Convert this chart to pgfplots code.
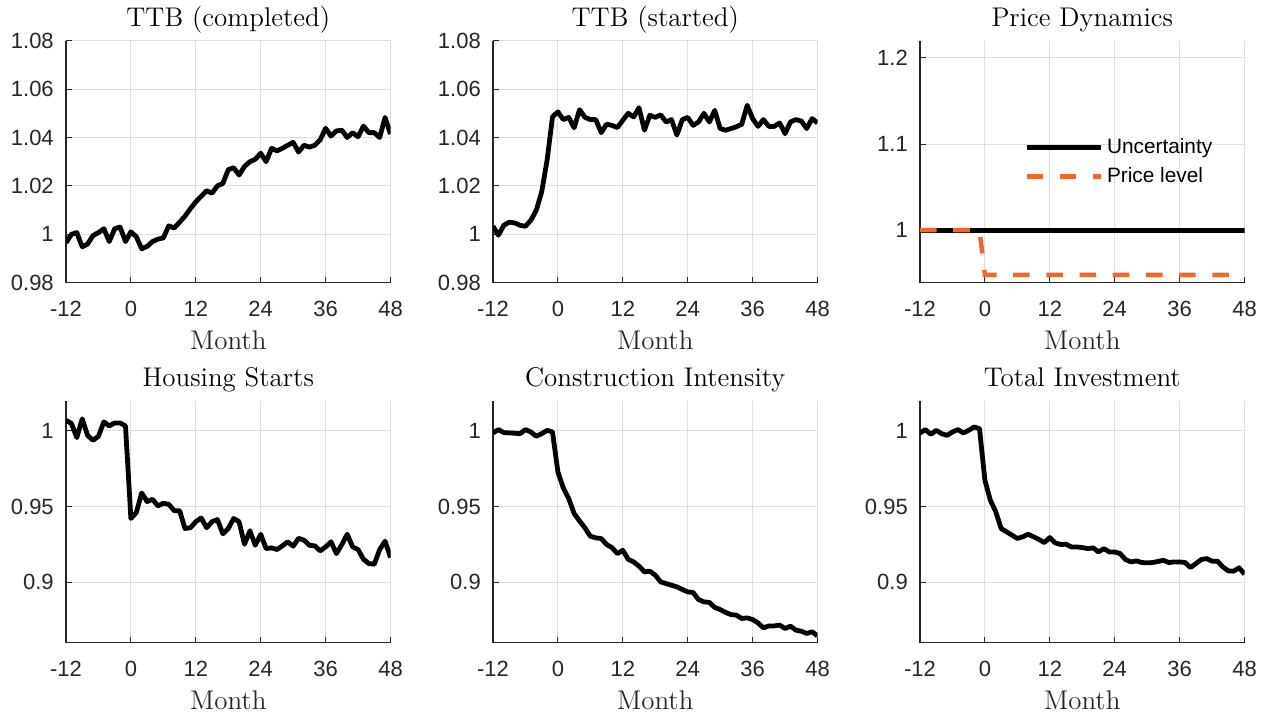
\documentclass[border=0pt]{standalone}
\usepackage{fontspec}
\usepackage{pgfplots}
\pgfplotsset{compat=1.18}
\newfontfamily\arialf{Liberation Sans}
\definecolor{axgray}{rgb}{0.15,0.15,0.15}
\definecolor{gridgray}{rgb}{0.87,0.87,0.87}
\definecolor{morange}{RGB}{236,104,44}
\pgfplotsset{
  panel/.style={
    scale only axis, width=162.25pt, height=121pt, anchor=south west,
    xmin=-12, xmax=48,
    xtick={-12,0,12,24,36,48}, xticklabels={-12,0,12,24,36,48},
    axis x line*=bottom, axis y line*=left,
    grid=major, grid style={color=gridgray, line width=0.5pt},
    tick align=inside, major tick length=3pt,
    tick style={color=axgray, line width=0.5pt},
    axis line style={color=axgray, line width=0.6pt, -},
    /pgf/number format/assume math mode=true,
    ticklabel style={font=\arialf\fontsize{11}{13}\selectfont, text=axgray},
    xticklabel style={yshift=-5.5pt},
    yticklabel style={xshift=-2.6pt},
    xlabel={Month},
    xlabel style={font=\fontsize{13.5}{15}\selectfont, text=axgray, yshift=-0.5pt},
    every axis title/.style={at={(0.5,1)}, anchor=base, yshift=7.3pt, font=\fontsize{13.5}{15}\selectfont},
  },
  ser/.style={black, line width=2.4pt, line join=round},
}
\begin{document}
\begin{tikzpicture}
\useasboundingbox (0,0) rectangle (634pt,357.5pt);
% ---------------- TTB (completed)
\begin{axis}[panel, at={(33pt,216.15pt)}, title={TTB (completed)},
  ymin=0.98, ymax=1.08, ytick={0.98,1,1.02,1.04,1.06,1.08},
  yticklabels={0.98,1,1.02,1.04,1.06,1.08}]
\addplot[ser] coordinates {
(-12,0.9965)(-11,1.0000)(-10,1.0007)(-9,0.9948)(-8,0.9960)(-7,0.9995)(-6,1.0007)(-5,1.0023)(-4,0.9970)(-3,1.0023)(-2,1.0030)(-1,0.9970)
(0,1.0010)(1,0.9990)(2,0.9940)(3,0.9950)(4,0.9970)(5,0.9980)(6,0.9985)(7,1.0035)(8,1.0026)(9,1.0050)(10,1.0075)(11,1.0106)
(12,1.0134)(13,1.0157)(14,1.0180)(15,1.0170)(16,1.0200)(17,1.0210)(18,1.0267)(19,1.0275)(20,1.0245)(21,1.0280)(22,1.0300)(23,1.0310)
(24,1.0335)(25,1.0300)(26,1.0355)(27,1.0345)(28,1.0355)(29,1.0368)(30,1.0380)(31,1.0340)(32,1.0368)(33,1.0360)(34,1.0368)(35,1.0390)
(36,1.0438)(37,1.0406)(38,1.0427)(39,1.0430)(40,1.0400)(41,1.0420)(42,1.0403)(43,1.0447)(44,1.0420)(45,1.0420)(46,1.0400)(47,1.0483)(48,1.0414)};
\end{axis}
% ---------------- TTB (started)
\begin{axis}[panel, at={(246.5pt,216.15pt)}, title={TTB (started)},
  ymin=0.98, ymax=1.08, ytick={0.98,1,1.02,1.04,1.06,1.08},
  yticklabels={0.98,1,1.02,1.04,1.06,1.08}]
\addplot[ser] coordinates {
(-12,1.0033)(-11,0.9996)(-10,1.0037)(-9,1.0050)(-8,1.0047)(-7,1.0037)(-6,1.0033)(-5,1.0058)(-4,1.0099)(-3,1.0175)(-2,1.0306)(-1,1.0485)
(0,1.0506)(1,1.0474)(2,1.0483)(3,1.0440)(4,1.0515)(5,1.0483)(6,1.0474)(7,1.0474)(8,1.0420)(9,1.0455)(10,1.0450)(11,1.0441)
(12,1.0471)(13,1.0500)(14,1.0485)(15,1.0523)(16,1.0430)(17,1.0492)(18,1.0483)(19,1.0494)(20,1.0464)(21,1.0474)(22,1.0410)(23,1.0474)
(24,1.0483)(25,1.0450)(26,1.0464)(27,1.0500)(28,1.0464)(29,1.0512)(30,1.0437)(31,1.0430)(32,1.0437)(33,1.0444)(34,1.0455)(35,1.0533)
(36,1.0478)(37,1.0446)(38,1.0474)(39,1.0446)(40,1.0446)(41,1.0460)(42,1.0416)(43,1.0464)(44,1.0474)(45,1.0468)(46,1.0437)(47,1.0478)(48,1.0460)};
\end{axis}
% ---------------- Price Dynamics
\begin{axis}[panel, at={(460pt,216.15pt)}, title={Price Dynamics},
  ymin=0.939, ymax=1.22, ytick={1,1.1,1.2}, yticklabels={1,1.1,1.2},
  legend style={draw=none, fill=none, at={(0.32,0.615)}, anchor=north west,
    font=\arialf\fontsize{10.4}{12}\selectfont, text=black,
    row sep=1.5pt, inner sep=0pt},
  legend cell align=left,
  legend image code/.code={\draw[#1] (0pt,0pt) -- (37pt,0pt);}]
\addplot[ser] coordinates {(-12,1)(-11,1)(-10,1)(-9,1)(-8,1)(-7,1)(-6,1)(-5,1)(-4,1)(-3,1)(-2,1)(-1,1)(0,1)(6,1)(12,1)(18,1)(24,1)(30,1)(36,1)(42,1)(48,1)};
\addlegendentry{Uncertainty}
\addplot[morange, line width=2.2pt, dash pattern=on 8.3pt off 8.3pt] coordinates {
(-12,1)(-11,1)(-10,1)(-9,1)(-8,1)(-7,1)(-6,1)(-5,1)(-4,1)(-3,1)(-2,1)(-1,1)
(0,0.948)(6,0.948)(12,0.948)(18,0.948)(24,0.948)(30,0.948)(36,0.948)(42,0.948)(48,0.948)};
\addlegendentry{Price level}
\end{axis}
% ---------------- Housing Starts
\begin{axis}[panel, at={(33pt,36.15pt)}, title={Housing Starts},
  ymin=0.86, ymax=1.02, ytick={0.9,0.95,1}, yticklabels={0.9,0.95,1}]
\addplot[ser] coordinates {
(-12,1.0070)(-11,1.0050)(-10,0.9956)(-9,1.0080)(-8,0.9970)(-7,0.9938)(-6,0.9965)(-5,1.0060)(-4,1.0033)(-3,1.0053)(-2,1.0053)(-1,1.0033)
(0,0.9421)(1,0.9460)(2,0.9590)(3,0.9533)(4,0.9548)(5,0.9504)(6,0.9522)(7,0.9515)(8,0.9473)(9,0.9473)(10,0.9355)(11,0.9360)
(12,0.9400)(13,0.9425)(14,0.9360)(15,0.9400)(16,0.9414)(17,0.9320)(18,0.9355)(19,0.9421)(20,0.9400)(21,0.9251)(22,0.9340)(23,0.9244)
(24,0.9317)(25,0.9222)(26,0.9227)(27,0.9216)(28,0.9240)(29,0.9267)(30,0.9238)(31,0.9290)(32,0.9278)(33,0.9244)(34,0.9240)(35,0.9207)
(36,0.9233)(37,0.9267)(38,0.9189)(39,0.9249)(40,0.9317)(41,0.9233)(42,0.9216)(43,0.9152)(44,0.9123)(45,0.9119)(46,0.9216)(47,0.9271)(48,0.9163)};
\end{axis}
% ---------------- Construction Intensity
\begin{axis}[panel, at={(246.5pt,36.15pt)}, title={Construction Intensity},
  ymin=0.86, ymax=1.02, ytick={0.9,0.95,1}, yticklabels={0.9,0.95,1}]
\addplot[ser] coordinates {
(-12,0.9987)(-11,1.0009)(-10,0.9989)(-9,0.9987)(-8,0.9985)(-7,0.9982)(-6,1.0009)(-5,0.9993)(-4,0.9965)(-3,0.9982)(-2,1.0004)(-1,0.9993)
(0,0.9729)(1,0.9623)(2,0.9553)(3,0.9454)(4,0.9405)(5,0.9359)(6,0.9304)(7,0.9293)(8,0.9289)(9,0.9249)(10,0.9229)(11,0.9189)
(12,0.9211)(13,0.9152)(14,0.9134)(15,0.9106)(16,0.9068)(17,0.9073)(18,0.9046)(19,0.9002)(20,0.8991)(21,0.8980)(22,0.8969)(23,0.8952)
(24,0.8936)(25,0.8932)(26,0.8885)(27,0.8870)(28,0.8866)(29,0.8833)(30,0.8819)(31,0.8800)(32,0.8786)(33,0.8782)(34,0.8760)(35,0.8764)
(36,0.8753)(37,0.8731)(38,0.8698)(39,0.8711)(40,0.8711)(41,0.8716)(42,0.8694)(43,0.8709)(44,0.8683)(45,0.8676)(46,0.8661)(47,0.8672)(48,0.8645)};
\end{axis}
% ---------------- Total Investment
\begin{axis}[panel, at={(460pt,36.15pt)}, title={Total Investment},
  ymin=0.86, ymax=1.02, ytick={0.9,0.95,1}, yticklabels={0.9,0.95,1}]
\addplot[ser] coordinates {
(-12,0.9987)(-11,1.0009)(-10,0.9978)(-9,1.0004)(-8,0.9982)(-7,0.9971)(-6,0.9993)(-5,1.0009)(-4,0.9987)(-3,1.0004)(-2,1.0026)(-1,1.0015)
(0,0.9674)(1,0.9542)(2,0.9467)(3,0.9355)(4,0.9333)(5,0.9311)(6,0.9289)(7,0.9300)(8,0.9317)(9,0.9300)(10,0.9282)(11,0.9262)
(12,0.9295)(13,0.9260)(14,0.9249)(15,0.9251)(16,0.9233)(17,0.9233)(18,0.9229)(19,0.9222)(20,0.9227)(21,0.9200)(22,0.9222)(23,0.9200)
(24,0.9200)(25,0.9189)(26,0.9150)(27,0.9134)(28,0.9141)(29,0.9130)(30,0.9128)(31,0.9130)(32,0.9137)(33,0.9145)(34,0.9130)(35,0.9134)
(36,0.9134)(37,0.9130)(38,0.9097)(39,0.9123)(40,0.9150)(41,0.9156)(42,0.9139)(43,0.9139)(44,0.9101)(45,0.9075)(46,0.9073)(47,0.9095)(48,0.9053)};
\end{axis}
\end{tikzpicture}
\end{document}
